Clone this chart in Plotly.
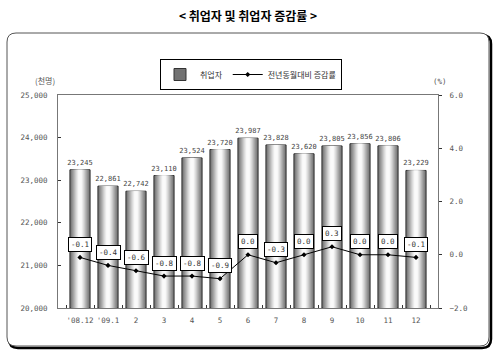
import plotly.graph_objects as go

categories = ["'08.12", "'09.1", "2", "3", "4", "5", "6", "7", "8", "9", "10", "11", "12"]
employed = [23245, 22861, 22742, 23110, 23524, 23720, 23987, 23828, 23620, 23805, 23856, 23806, 23229]
change_rate = [-0.1, -0.4, -0.6, -0.8, -0.8, -0.9, 0.0, -0.3, 0.0, 0.3, 0.0, 0.0, -0.1]
left_ticks = [20000, 21000, 22000, 23000, 24000, 25000]
right_ticks = [-2.0, 0.0, 2.0, 4.0, 6.0]

W, H = 500, 357
ML, MR, MT, MB = 58, 62, 95, 49
PW, PH = W - ML - MR, H - MT - MB

def px(x):
    return (x - ML) / PW

def py(y):
    return (H - MB - y) / PH

fig = go.Figure()

mono = "DejaVu Sans Mono"
shades = ["#727272", "#848484", "#979797", "#ababab", "#c0c0c0", "#d6d6d6", "#eaeaea", "#fafafa"]
widths = [0.72, 0.64, 0.56, 0.48, 0.40, 0.32, 0.23, 0.13]
for i, (c, w) in enumerate(zip(shades, widths)):
    fig.add_trace(go.Bar(
        x=categories, y=[v - 20000 for v in employed], base=20000,
        width=w, marker=dict(color=c, line=dict(color="#333333", width=1 if i == 0 else 0)),
        name="취업자", showlegend=(i == 0), legendgroup="emp",
        text=[f"{v:,}" for v in employed] if i == 0 else None,
        textposition="outside" if i == 0 else "none",
        constraintext="none",
        textfont=dict(family=mono, size=7, color="#444444"),
        cliponaxis=False, hoverinfo="skip" if i else None,
    ))

fig.add_trace(go.Scatter(
    x=categories, y=change_rate, yaxis="y2", mode="lines+markers",
    line=dict(color="black", width=1), marker=dict(symbol="diamond", size=4, color="black"),
    name="전년동월대비 증감률",
))

for c, v in zip(categories, change_rate):
    fig.add_annotation(x=c, y=v, xref="x", yref="y2", yshift=13, showarrow=False,
                       text=f"{v:.1f}", font=dict(family=mono, size=7.5, color="#333333"),
                       bgcolor="white", bordercolor="black", borderwidth=1, borderpad=2)

# outer rounded frame with shadow
def rrect(x0, y0, x1, y1, r):
    return (f"M {px(x0+r)},{py(y0)} L {px(x1-r)},{py(y0)} Q {px(x1)},{py(y0)} {px(x1)},{py(y0+r)} "
            f"L {px(x1)},{py(y1-r)} Q {px(x1)},{py(y1)} {px(x1-r)},{py(y1)} "
            f"L {px(x0+r)},{py(y1)} Q {px(x0)},{py(y1)} {px(x0)},{py(y1-r)} "
            f"L {px(x0)},{py(y0+r)} Q {px(x0)},{py(y0)} {px(x0+r)},{py(y0)} Z")

fig.add_shape(type="path", path=rrect(9, 35, 491, 348, 9), xref="paper", yref="paper",
              line=dict(color="black", width=2.5), layer="below")
fig.add_shape(type="path", path=rrect(7, 33, 489, 346, 9), xref="paper", yref="paper",
              line=dict(color="#555555", width=1), fillcolor="white", layer="below")

fig.add_annotation(text="(천명)", x=px(33), y=py(73), xref="paper", yref="paper", showarrow=False,
                   font=dict(family="Noto Sans CJK KR", size=8, color="#555555"))
fig.add_annotation(text="(%)", x=px(449), y=py(75), xref="paper", yref="paper", showarrow=False,
                   font=dict(family=mono, size=7.5, color="#555555"))

fig.update_layout(
    width=W, height=H, margin=dict(l=ML, r=MR, t=MT, b=MB, autoexpand=False),
    paper_bgcolor="white", plot_bgcolor="white",
    barmode="overlay", bargap=0.28,
    title=dict(text="<b>< 취업자 및 취업자 증감률 ></b>", x=0.5, xref="paper", xanchor="center",
               y=1 - 17 / H, yanchor="middle",
               font=dict(family="Noto Sans CJK KR", size=12, color="black")),
    showlegend=True,
    legend=dict(orientation="h", x=px(251), xanchor="center", y=py(59), yanchor="top",
                bordercolor="black", borderwidth=1, bgcolor="white",
                font=dict(family="Noto Sans CJK KR", size=8, color="#333333"),
                tracegroupgap=0, itemwidth=30),
    xaxis=dict(type="category", showline=True, linecolor="#777777", mirror=True,
               ticks="inside", ticklen=3, tickcolor="#333333", tickson="boundaries",
               tickangle=0, automargin=False, ticklabelstandoff=5,
               tickfont=dict(family=mono, size=7.5, color="#555555"), showgrid=False),
    yaxis=dict(range=[20000, 25000], tickvals=left_ticks, tickformat=",", automargin=False,
               showline=True, linecolor="#777777", ticks="inside", ticklen=3, tickcolor="#333333",
               tickfont=dict(family=mono, size=7.5, color="#555555"), showgrid=False, zeroline=False,
               ticklabelstandoff=8),
    yaxis2=dict(range=[-2, 6], tickvals=right_ticks, tickformat=".1f", overlaying="y", side="right",
                automargin=False,
                showline=True, linecolor="#777777", ticks="outside", ticklen=3, tickcolor="#333333",
                tickfont=dict(family=mono, size=7.5, color="#555555"), showgrid=False, zeroline=False,
                ticklabelstandoff=6),
)

fig.write_html("out.html", config={"displayModeBar": False},
               post_script="document.body.style.margin='0';")
